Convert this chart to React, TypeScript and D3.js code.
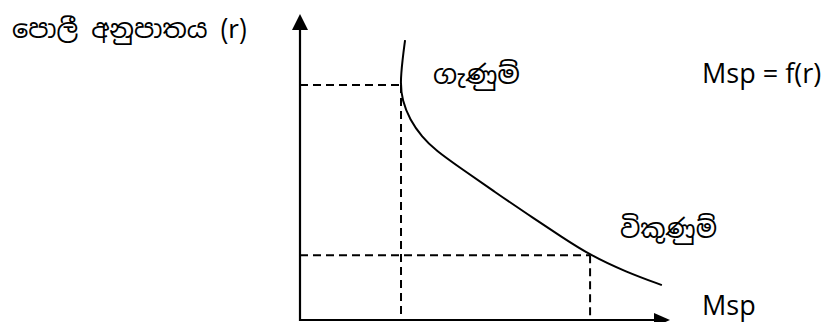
import React from 'react';
import * as d3 from 'd3';

// demand curve for money for speculative purposes, Msp = f(r)
const curveMsp = [2.84, 2.77, 2.71, 2.76, 2.97, 3.3, 3.65, 4.38, 5.27, 6.16, 7.08, 7.84, 8.81, 9.78];
const curveRate = [9.15, 8.5, 7.75, 7.19, 6.54, 5.98, 5.56, 4.93, 4.18, 3.45, 2.71, 2.12, 1.57, 1.14];

// the two marked points (buying at high r, selling at low r)
const markMsp = [2.73, 7.84];
const markRate = [7.68, 2.12];

const yTitle = 'පොලී අනුපාතය (r)';
const xTitle = 'Msp';
const funcLabel = 'Msp = f(r)';
const buyLabel = 'ගැණුම්';
const sellLabel = 'විකුණුම්';

const W = 828;
const H = 322;

const App = () => {
    const x = d3.scaleLinear().domain([0, 10]).range([300, 670]);
    const y = d3.scaleLinear().domain([0, 10]).range([320, 14]);

    const pts: [number, number][] = curveMsp.map((m, i) => [m, curveRate[i]]);
    const line = d3.line<[number, number]>()
        .x(d => x(d[0]))
        .y(d => y(d[1]))
        .curve(d3.curveBasis);

    const x0 = x(0), y0 = y(0);
    const xEnd = x(10), yEnd = y(10);

    const latin = "'Open Sans', 'Noto Sans', sans-serif";
    const sinhala = "'Noto Sans Sinhala', 'Iskoola Pota', 'Noto Sans', sans-serif";

    return (
        <svg width={W} height={H} style={{ position: 'absolute', left: 0, top: 0, background: '#fff' }}>
            {/* dashed guides */}
            {markMsp.map((m, i) => (
                <g key={i} stroke="#000" strokeWidth={2} strokeDasharray="8,5" fill="none">
                    <line x1={x0} x2={x(m)} y1={y(markRate[i])} y2={y(markRate[i])} />
                    <line x1={x(m)} x2={x(m)} y1={y(markRate[i])} y2={y0} />
                </g>
            ))}

            {/* curve */}
            <path d={line(pts) || ''} fill="none" stroke="#000" strokeWidth={2} />

            {/* axes */}
            <line x1={x0} x2={x0} y1={y0 + 1} y2={yEnd + 12} stroke="#000" strokeWidth={2.2} />
            <polygon points={`${x0},${yEnd} ${x0 - 8},${yEnd + 16} ${x0 + 8},${yEnd + 16}`} fill="#000" />
            <line x1={x0 - 1} x2={xEnd - 12} y1={y0} y2={y0} stroke="#000" strokeWidth={2.2} />
            <polygon points={`${xEnd},${y0} ${xEnd - 16},${y0 - 7} ${xEnd - 16},${y0 + 7}`} fill="#000" />

            {/* text */}
            <text x={12} y={38} fontFamily={sinhala} fontSize={26} fill="#000" textLength={235} lengthAdjust="spacingAndGlyphs">{yTitle}</text>
            <text x={433} y={84} fontFamily={sinhala} fontSize={26} fill="#000" textLength={87} lengthAdjust="spacingAndGlyphs">{buyLabel}</text>
            <text x={702} y={83} fontFamily={latin} fontSize={27} fill="#000">{funcLabel}</text>
            <text x={620} y={238} fontFamily={sinhala} fontSize={26} fill="#000" textLength={97} lengthAdjust="spacingAndGlyphs">{sellLabel}</text>
            <text x={702} y={315} fontFamily={latin} fontSize={27} fill="#000">{xTitle}</text>
        </svg>
    );
};

export default App;
